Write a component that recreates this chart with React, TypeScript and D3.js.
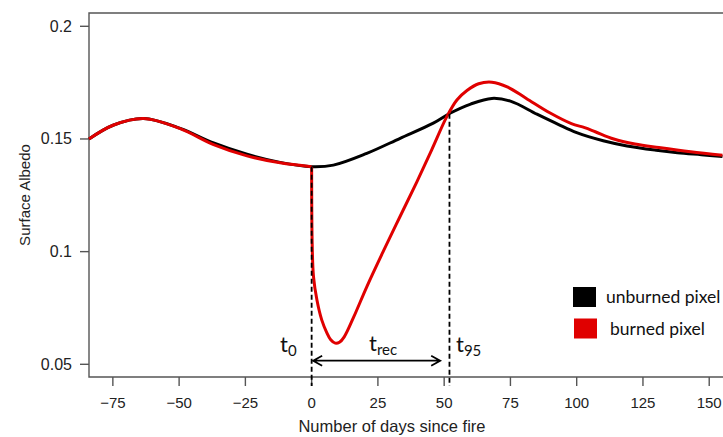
import React, { useEffect, useRef } from "react";
import * as d3 from "d3";

// days since fire and albedo
const unburnedDays = [-84, -74.7, -63.4, -49.6, -37, -24.4, -11.9, 0, 8.2, 20.8, 33.4, 45.9, 52.2, 60, 68, 75, 85, 93, 100, 110, 119, 130, 138, 147, 155];
const unburnedAlbedo = [0.15, 0.1562, 0.1591, 0.1547, 0.1482, 0.1432, 0.1396, 0.1377, 0.1384, 0.1436, 0.1503, 0.157, 0.1614, 0.1655, 0.168, 0.1668, 0.161, 0.1565, 0.1528, 0.1492, 0.1469, 0.145, 0.1439, 0.143, 0.1422];

const burnedDays = [-84, -74.7, -63.4, -49.6, -37, -24.4, -11.9, 0, 0.2, 0.7, 2, 3.8, 5.7, 7.2, 8.9, 10.5, 12.3, 15.8, 20.8, 27.1, 33.4, 39.7, 45.3, 51, 54.8, 58.6, 63, 68, 74, 81, 90, 98, 103, 107, 114, 122, 131, 143, 155];
const burnedAlbedo = [0.15, 0.1562, 0.1591, 0.1546, 0.1475, 0.1425, 0.1394, 0.1377, 0.1038, 0.0889, 0.0785, 0.0697, 0.0641, 0.0609, 0.0594, 0.0598, 0.0622, 0.0708, 0.0844, 0.1003, 0.1157, 0.131, 0.1452, 0.1599, 0.1673, 0.1715, 0.1745, 0.1752, 0.173, 0.168, 0.1615, 0.1568, 0.155, 0.1532, 0.15, 0.1478, 0.1462, 0.1443, 0.1428];

const xTicks = [-75, -50, -25, 0, 25, 50, 75, 100, 125, 150];
const yTicks = [0.05, 0.1, 0.15, 0.2];
const yTickLabels = ["0.05", "0.1", "0.15", "0.2"];
const t0Day = 0;
const t95Day = 52;
const arrowEndDay = 48.5;
const legendNames = ["unburned pixel", "burned pixel"];
const legendColors = ["#000000", "#e00000"];

const App = () => {
  const ref = useRef<SVGSVGElement | null>(null);

  useEffect(() => {
    const svg = d3.select(ref.current);
    svg.selectAll("*").remove();

    const x = d3.scaleLinear().domain([-84, 155.2]).range([89, 723]);
    const y = d3.scaleLinear().domain([0.05, 0.2]).range([364.3, 26.3]);
    const axisFont = "'Liberation Sans', Arial, sans-serif";
    const labelFont = "Lato, 'Open Sans', sans-serif";
    const axisColor = "#555";

    // box (left, top, bottom)
    svg.append("path")
      .attr("d", `M723,13H89V377H723`)
      .attr("fill", "none")
      .attr("stroke", axisColor)
      .attr("stroke-width", 1.4);

    // y axis
    const yAxis = svg.append("g");
    yTicks.forEach((t, i) => {
      yAxis.append("line")
        .attr("x1", 80).attr("x2", 89)
        .attr("y1", y(t)).attr("y2", y(t))
        .attr("stroke", axisColor).attr("stroke-width", 1.4);
      yAxis.append("text")
        .attr("x", 72).attr("y", y(t) + 5.5)
        .attr("text-anchor", "end")
        .attr("font-family", axisFont).attr("font-size", 16)
        .attr("fill", "#222")
        .text(yTickLabels[i]);
    });

    // x axis
    const xAxis = svg.append("g");
    xTicks.forEach((t) => {
      xAxis.append("line")
        .attr("x1", x(t)).attr("x2", x(t))
        .attr("y1", 377).attr("y2", 386)
        .attr("stroke", axisColor).attr("stroke-width", 1.4);
      xAxis.append("text")
        .attr("x", x(t)).attr("y", 408)
        .attr("text-anchor", "middle")
        .attr("font-family", axisFont).attr("font-size", 15)
        .attr("fill", "#222")
        .text(t < 0 ? "\u2212" + Math.abs(t) : String(t));
    });

    svg.append("text")
      .attr("x", 392).attr("y", 432)
      .attr("text-anchor", "middle")
      .attr("font-family", axisFont).attr("font-size", 16.5)
      .attr("fill", "#222")
      .text("Number of days since fire");

    svg.append("text")
      .attr("transform", "translate(30,195) rotate(-90)")
      .attr("text-anchor", "middle")
      .attr("font-family", axisFont).attr("font-size", 15)
      .attr("fill", "#222")
      .text("Surface Albedo");

    // curves
    const line = d3.line<[number, number]>()
      .x((d) => x(d[0]))
      .y((d) => y(d[1]))
      .curve(d3.curveCatmullRom.alpha(0.5));

    const unburned = unburnedDays.map((d, i) => [d, unburnedAlbedo[i]] as [number, number]);
    const burned = burnedDays.map((d, i) => [d, burnedAlbedo[i]] as [number, number]);
    const fireIdx = burnedDays.indexOf(t0Day);
    // split the burned curve at the fire so the drop stays vertical
    const burnedPre = burned.slice(0, fireIdx + 1);
    const burnedPost = burned.slice(fireIdx);

    const plot = svg.append("g");
    plot.append("path")
      .attr("d", line(unburned))
      .attr("fill", "none").attr("stroke", legendColors[0]).attr("stroke-width", 3);
    [burnedPre, burnedPost].forEach((seg) => {
      plot.append("path")
        .attr("d", line(seg))
        .attr("fill", "none").attr("stroke", legendColors[1]).attr("stroke-width", 3)
        .attr("stroke-linejoin", "round");
    });

    // dashed markers
    const dash = svg.append("g");
    dash.append("line")
      .attr("x1", x(t0Day)).attr("x2", x(t0Day))
      .attr("y1", y(0.1377)).attr("y2", 386)
      .attr("stroke", "#000").attr("stroke-width", 1.8).attr("stroke-dasharray", "5,3");
    dash.append("line")
      .attr("x1", x(t95Day)).attr("x2", x(t95Day))
      .attr("y1", y(0.1612)).attr("y2", 386)
      .attr("stroke", "#000").attr("stroke-width", 1.8).attr("stroke-dasharray", "5,3");

    // recovery arrow
    const ay = 360.7;
    const ax1 = x(t0Day) + 1.5;
    const ax2 = x(arrowEndDay);
    svg.append("path")
      .attr("d", `M${ax1},${ay}H${ax2}M${ax1 + 9},${ay - 5}L${ax1},${ay}L${ax1 + 9},${ay + 5}M${ax2 - 9},${ay - 5}L${ax2},${ay}L${ax2 - 9},${ay + 5}`)
      .attr("fill", "none").attr("stroke", "#000").attr("stroke-width", 1.8);

    const sub = (px: number, py: number, main: string, s: string) => {
      const t = svg.append("text")
        .attr("x", px).attr("y", py)
        .attr("font-family", labelFont).attr("font-size", 22)
        .attr("fill", "#111");
      t.append("tspan").text(main);
      t.append("tspan").attr("dy", 4).attr("font-size", 15).text(s);
    };
    sub(280, 352, "t", "0");
    sub(369, 351, "t", "rec");
    sub(456, 352, "t", "95");

    // legend
    legendNames.forEach((n, i) => {
      svg.append("rect")
        .attr("x", 573 + i).attr("y", 287 + i * 31.5)
        .attr("width", 23).attr("height", 20)
        .attr("fill", legendColors[i]);
      svg.append("text")
        .attr("x", i === 0 ? 606 : 610).attr("y", 303 + i * 32)
        .attr("font-family", labelFont).attr("font-size", 17.5)
        .attr("fill", "#111")
        .text(n);
    });
  }, []);

  return (
    <svg ref={ref} width={723} height={437} style={{ position: "absolute", left: 0, top: 0, background: "#fff" }} />
  );
};

export default App;
